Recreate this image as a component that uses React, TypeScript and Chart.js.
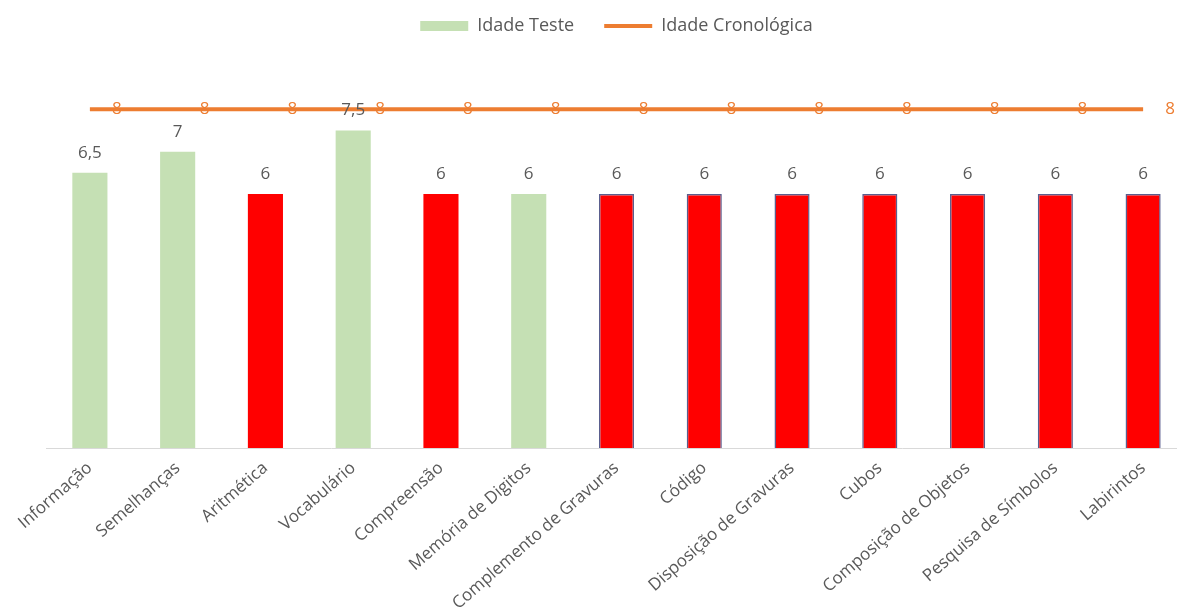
import React, { useEffect, useRef } from "react";
import { Chart, registerables } from "chart.js";

Chart.register(...registerables);

// Subtests and scores
const subtests = [
  "Informação",
  "Semelhanças",
  "Aritmética",
  "Vocabulário",
  "Compreensão",
  "Memória de Digitos",
  "Complemento de Gravuras",
  "Código",
  "Disposição de Gravuras",
  "Cubos",
  "Composição de Objetos",
  "Pesquisa de Símbolos",
  "Labirintos",
];
const idadeTeste = [6.5, 7, 6, 7.5, 6, 6, 6, 6, 6, 6, 6, 6, 6];
const idadeCronologica = [8, 8, 8, 8, 8, 8, 8, 8, 8, 8, 8, 8, 8];
// true = score reached (green), false = below (red)
const aboveMark = [true, true, false, true, false, true, false, false, false, false, false, false, false];
const outlined = [false, false, false, false, false, false, true, true, true, true, true, true, true];

const GREEN = "#C5E0B4";
const RED = "#FF0000";
const ORANGE = "#ED7D31";
const TEXT = "#595959";
const FONT = "'Open Sans', 'DejaVu Sans', sans-serif";

const fmt = (v: number) => String(v).replace(".", ",");

const valueLabels = {
  id: "valueLabels",
  afterDatasetsDraw(chart: any) {
    const { ctx } = chart;
    ctx.save();
    ctx.font = `17px ${FONT}`;
    ctx.textAlign = "center";
    ctx.textBaseline = "middle";
    chart.data.datasets.forEach((ds: any, di: number) => {
      const meta = chart.getDatasetMeta(di);
      meta.data.forEach((el: any, i: number) => {
        const v = ds.data[i];
        if (ds.type === "line") {
          ctx.fillStyle = ORANGE;
          ctx.fillText(fmt(v), el.x + 27, el.y);
        } else {
          ctx.fillStyle = TEXT;
          ctx.fillText(fmt(v), el.x, el.y - 20);
        }
      });
    });
    ctx.restore();
  },
};

const legendSpacing = {
  id: "legendSpacing",
  beforeInit(chart: any) {
    const legend = chart.legend;
    if (!legend) return;
    const fit = legend.fit;
    legend.fit = function () {
      fit.call(legend);
      this.height += 22;
    };
  },
};

export default function App() {
  const ref = useRef<HTMLCanvasElement | null>(null);

  useEffect(() => {
    if (!ref.current) return;
    const chart = new Chart(ref.current, {
      type: "bar",
      data: {
        labels: subtests,
        datasets: [
          {
            type: "line",
            label: "Idade Cronológica",
            data: idadeCronologica,
            borderColor: ORANGE,
            backgroundColor: ORANGE,
            borderWidth: 4,
            pointRadius: 0,
            pointStyle: "line",
            order: 0,
          } as any,
          {
            type: "bar",
            label: "Idade Teste",
            data: idadeTeste,
            backgroundColor: aboveMark.map((g) => (g ? GREEN : RED)),
            borderColor: outlined.map((o) => (o ? "#5A5E8E" : "rgba(0,0,0,0)")),
            borderWidth: outlined.map((o) => (o ? 1.5 : 0)),
            barPercentage: 0.8,
            categoryPercentage: 0.5,
            pointStyle: "rect",
            order: 1,
          } as any,
        ],
      },
      options: {
        responsive: false,
        animation: false,
        layout: { padding: { left: 46, right: 25, top: -13, bottom: 0 } },
        plugins: {
          legend: {
            position: "top",
            reverse: true,
            labels: {
              usePointStyle: true,
              pointStyleWidth: 48,
              boxHeight: 10,
              color: TEXT,
              font: { family: FONT, size: 18 },
              padding: 30,
            },
          },
          tooltip: { enabled: false },
        },
        scales: {
          x: {
            grid: { display: false },
            border: { display: true, color: "#D9D9D9", width: 1 },
            ticks: {
              color: TEXT,
              font: { family: FONT, size: 17 },
              autoSkip: false,
              minRotation: 41,
              maxRotation: 41,
              padding: 2,
            },
            afterFit: (scale: any) => {
              scale.height = 168;
            },
          },
          y: {
            display: false,
            min: 0,
            max: 9,
          },
        },
      },
      plugins: [valueLabels, legendSpacing],
    });
    return () => chart.destroy();
  }, []);

  return (
    <div
      style={{
        position: "absolute",
        left: 0,
        top: 0,
        width: 1177,
        height: 616,
        overflow: "hidden",
        background: "#fff",
      }}
    >
      <canvas ref={ref} width={1212} height={616} style={{ display: "block" }} />
    </div>
  );
}
